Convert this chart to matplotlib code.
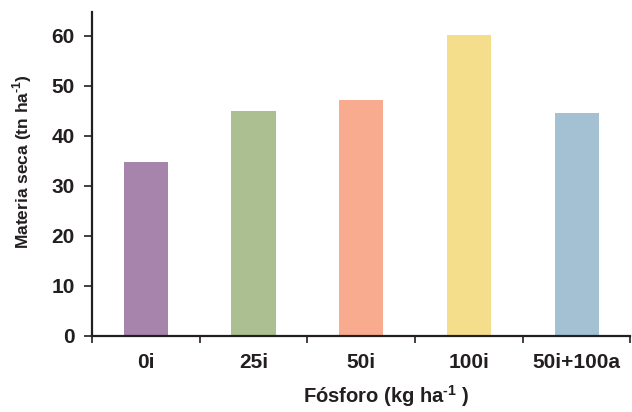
import numpy as np
import matplotlib
matplotlib.use("Agg")
import matplotlib.pyplot as plt
from matplotlib import font_manager

# Tratamientos de fósforo y materia seca obtenida
tratamientos = ["0i", "25i", "50i", "100i", "50i+100a"]
materia_seca = [34.8, 45.0, 47.2, 60.2, 44.6]
colores = ["#A684AB", "#ABBF91", "#F8AB8F", "#F5DE8B", "#A3C1D2"]
y_ticks = [0, 10, 20, 30, 40, 50, 60]

plt.rcParams["font.family"] = ["Liberation Sans", "DejaVu Sans"]
plt.rcParams["mathtext.fontset"] = "custom"
plt.rcParams["mathtext.rm"] = "Liberation Sans:bold"
plt.rcParams["mathtext.bf"] = "Liberation Sans:bold"

nombres = {f.name for f in font_manager.fontManager.ttflist}
fuente_estrecha = "Liberation Sans Narrow" if "Liberation Sans Narrow" in nombres else "Liberation Sans"

eje_color = "#231F20"
sup = r"$^{\text{-}\mathbf{1}}$"

fig = plt.figure(figsize=(6.32, 4.12), dpi=100)
ax = fig.add_axes([0.1456, 0.1845, 0.852, 0.7865])

x = np.arange(len(tratamientos))
ax.bar(x, materia_seca, width=0.41, color=colores)

ax.set_xlim(-0.5, len(tratamientos) - 0.5)
ax.set_ylim(0, 64.8)

# marcas entre categorías, etiquetas centradas
ax.set_xticks(np.arange(-0.5, len(tratamientos), 1.0))
ax.set_xticklabels([])
ax.set_xticks(x, minor=True)
ax.set_xticklabels(tratamientos, minor=True, fontsize=15, fontweight="bold", color=eje_color)
ax.tick_params(axis="x", which="major", direction="out", length=5, width=1.2, color=eje_color)
ax.tick_params(axis="x", which="minor", length=0, pad=12.5)

ax.set_yticks(y_ticks)
ax.set_yticklabels([str(v) for v in y_ticks], fontsize=15, fontweight="bold", color=eje_color)
ax.tick_params(axis="y", direction="out", length=6, width=1.2, color=eje_color, pad=6.5)

for lado in ["top", "right"]:
    ax.spines[lado].set_visible(False)
for lado in ["left", "bottom"]:
    ax.spines[lado].set_linewidth(1.6)
    ax.spines[lado].set_color(eje_color)

ax.set_xlabel("Fósforo (kg ha" + sup + " )", fontsize=14.5, fontweight="bold", color=eje_color)
ax.xaxis.set_label_coords(0.547, -0.145)
ax.set_ylabel("Materia seca (tn ha" + sup + ")", fontsize=12.5, fontweight="bold",
              color=eje_color, family=fuente_estrecha)
ax.yaxis.set_label_coords(-0.108, 0.537)

fig.savefig("out.png", dpi=100)
